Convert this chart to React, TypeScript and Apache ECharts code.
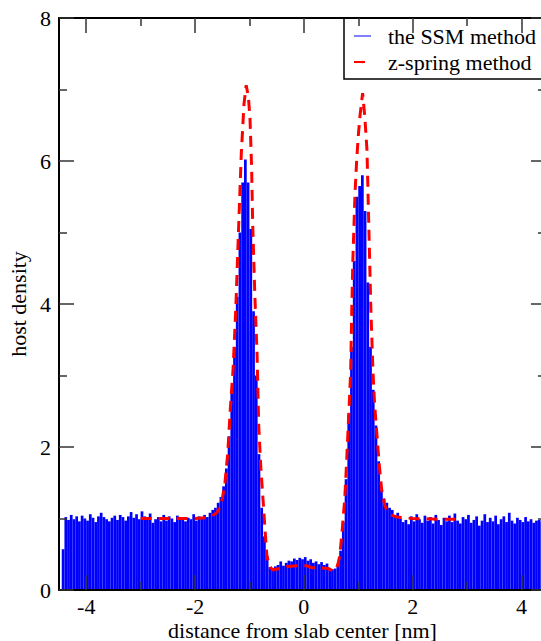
import React, { useEffect, useRef } from "react";
import * as echarts from "echarts";

// Histogram (SSM method): bins of width 0.05 nm starting at -4.45 nm
const HIST_START = -4.45;
const HIST_BIN = 0.05;
const histValues: number[] = [
  // left bulk (-4.45 .. -1.70)
  0.57, 1.02, 0.98, 1.05, 0.99, 1.03, 0.96, 1.04, 1.0, 0.97,
  1.06, 1.01, 0.95, 1.03, 1.08, 1.02, 0.99, 0.96, 1.01, 1.04,
  0.98, 1.05, 1.02, 0.97, 1.03, 1.09, 1.01, 1.06, 0.99, 1.1,
  1.03, 0.98, 1.07, 0.94, 0.99, 1.02, 0.96, 1.05, 0.97, 1.03,
  1.0, 0.95, 1.04, 0.98, 1.02, 0.96, 1.01, 0.99, 1.06, 0.97,
  1.03, 1.0, 1.05, 1.02, 1.08,
  // left peak
  1.12, 1.15, 1.22, 1.3, 1.45, 1.7, 2.15, 2.75, 3.4, 4.1,
  5.0, 5.7, 6.02, 5.7, 5.05, 3.9, 3.0, 1.9, 1.15, 0.75,
  0.48, 0.32,
  // slab centre
  0.3, 0.33, 0.35, 0.4, 0.34, 0.38, 0.41, 0.4, 0.44, 0.42,
  0.45, 0.43, 0.46, 0.41, 0.43, 0.38, 0.4, 0.36, 0.39, 0.35,
  0.37, 0.31, 0.29,
  // right peak
  0.3, 0.35, 0.55, 0.95, 1.55, 2.45, 3.4, 4.6, 5.5, 5.65,
  5.8, 5.3, 4.3, 3.4, 2.8, 2.3, 1.8, 1.4, 1.28, 1.22,
  1.15, 1.12, 1.05, 1.08,
  // right bulk
  1.0, 0.95, 0.98, 0.92, 1.03, 0.96, 1.06, 0.99, 0.94, 1.04,
  0.97, 1.02, 0.93, 1.05, 0.98, 0.91, 1.01, 0.96, 1.04, 0.95,
  1.07, 0.97, 0.93, 1.02, 0.99, 1.05, 0.94, 0.98, 1.03, 0.9,
  0.97, 1.06, 0.95, 1.01, 0.96, 1.04, 0.92, 0.99, 1.03, 0.95,
  1.08, 0.97, 0.93, 1.01, 0.98, 0.95, 1.02, 0.96, 0.99, 0.94,
  0.97, 0.98, 0.95, 0.96,
];

// z-spring method curve
const springX: number[] = [
  -3.0, -2.5, -2.0, -1.8, -1.7, -1.6, -1.55, -1.5, -1.45, -1.4,
  -1.35, -1.3, -1.25, -1.2, -1.15, -1.1, -1.06, -1.02, -0.99, -0.96,
  -0.94, -0.9, -0.86, -0.83, -0.79, -0.75, -0.71, -0.68, -0.63, -0.57,
  -0.45, -0.3, -0.1, 0.05, 0.15, 0.3, 0.45, 0.55, 0.6, 0.63,
  0.66, 0.7, 0.75, 0.78, 0.81, 0.84, 0.86, 0.88, 0.9, 0.94,
  0.97, 1.0, 1.03, 1.08, 1.12, 1.16, 1.19, 1.23, 1.27, 1.3,
  1.34, 1.38, 1.43, 1.48, 1.52, 1.6, 1.71, 2.0, 2.5, 2.9,
];
const springY: number[] = [
  1.0, 1.0, 1.0, 1.01, 1.03, 1.08, 1.15, 1.27, 1.5, 1.9,
  2.55, 3.1, 3.95, 5.05, 6.1, 6.8, 7.06, 6.9, 6.6, 5.9,
  5.1, 4.1, 3.3, 2.3, 1.7, 1.26, 0.8, 0.48, 0.33, 0.28,
  0.3, 0.33, 0.34, 0.34, 0.31, 0.31, 0.3, 0.26, 0.3, 0.38,
  0.48, 0.8, 1.26, 1.7, 2.2, 2.7, 3.05, 3.9, 4.6, 5.55,
  6.0, 6.35, 6.62, 6.95, 6.62, 6.15, 5.2, 3.96, 3.05, 2.6,
  2.2, 1.8, 1.4, 1.2, 1.12, 1.05, 1.02, 1.0, 0.99, 0.99,
];

const xMajorTicks = [-4, -2, 0, 2, 4];
const xMinorTicks = [-3, -1, 1, 3];
const seriesNames = ["the SSM method", "z-spring method"];

const FONT = "'Liberation Serif', 'Times New Roman', Times, serif";

export default function App() {
  const ref = useRef<HTMLDivElement>(null);
  useEffect(() => {
    document.body.style.margin = "0";
    const chart = echarts.init(ref.current!, null, { renderer: "svg" });
    const histData = histValues.map((v, i) => [HIST_START + HIST_BIN * (i + 0.5), v]);
    const springData = springX.map((x, i) => [x, springY[i]]);
    const tickStyle = { color: "#333", width: 1.5 };
    const xBase = { type: "value", min: -4.5, max: 4.45, splitLine: { show: false }, z: 5 };
    chart.setOption({
      animation: false,
      textStyle: { fontFamily: FONT },
      grid: { left: 59, top: 18, right: -5, bottom: 51, containLabel: false, outerBoundsMode: "none" },
      legend: {
        orient: "vertical",
        left: 344,
        top: 18,
        padding: [7, 40, 6, 9],
        itemGap: 4,
        itemWidth: 17,
        itemHeight: 3,
        borderColor: "#000",
        borderWidth: 1.5,
        backgroundColor: "#fff",
        textStyle: { fontFamily: FONT, fontSize: 22, color: "#000", padding: [0, 0, 0, 12] },
        data: [
          { name: seriesNames[0], icon: "path://M0,0h17v1h-17z" },
          { name: seriesNames[1] },
        ],
      },
      xAxis: [
        {
          ...xBase,
          position: "bottom",
          axisLine: { show: true, onZero: false, lineStyle: { color: "#000", width: 2 } },
          axisTick: { show: true, inside: true, length: 15, customValues: xMajorTicks, lineStyle: tickStyle },
          axisLabel: { show: true, customValues: xMajorTicks, fontFamily: FONT, fontSize: 22, color: "#000", margin: 5 },
          name: "distance from slab center [nm]",
          nameLocation: "middle",
          nameGap: 29,
          nameMoveOverlap: false,
          nameTextStyle: { fontFamily: FONT, fontSize: 22, color: "#000" },
        },
        {
          ...xBase,
          position: "bottom",
          axisLine: { show: false, onZero: false },
          axisTick: { show: true, inside: true, length: 8, customValues: xMinorTicks, lineStyle: tickStyle },
          axisLabel: { show: false },
        },
        {
          ...xBase,
          position: "top",
          axisLine: { show: true, onZero: false, lineStyle: { color: "#000", width: 2 } },
          axisTick: { show: true, inside: true, length: 15, customValues: xMajorTicks, lineStyle: tickStyle },
          axisLabel: { show: false },
        },
        {
          ...xBase,
          position: "top",
          axisLine: { show: false, onZero: false },
          axisTick: { show: true, inside: true, length: 8, customValues: xMinorTicks, lineStyle: tickStyle },
          axisLabel: { show: false },
        },
      ],
      yAxis: [
        {
          type: "value",
          min: 0,
          max: 8,
          interval: 2,
          position: "left",
          z: 5,
          splitLine: { show: false },
          axisLine: { show: true, onZero: false, lineStyle: { color: "#000", width: 2 } },
          axisTick: { show: true, inside: true, length: 15, lineStyle: tickStyle },
          minorTick: { show: true, splitNumber: 2, length: 8, lineStyle: tickStyle },
          axisLabel: { fontFamily: FONT, fontSize: 22, color: "#000", margin: 8 },
          name: "host density",
          nameLocation: "middle",
          nameGap: 30,
          nameMoveOverlap: false,
          nameTextStyle: { fontFamily: FONT, fontSize: 22, color: "#000" },
        },
        {
          type: "value",
          min: 0,
          max: 8,
          interval: 2,
          position: "right",
          z: 5,
          splitLine: { show: false },
          axisLine: { show: true, onZero: false, lineStyle: { color: "#000", width: 2 } },
          axisTick: { show: true, inside: true, length: 15, lineStyle: tickStyle },
          minorTick: { show: true, splitNumber: 2, length: 8, lineStyle: tickStyle },
          axisLabel: { show: false },
        },
      ],
      series: [
        {
          type: "custom",
          name: seriesNames[0],
          xAxisIndex: 0,
          yAxisIndex: 0,
          clip: true,
          data: histData,
          encode: { x: 0, y: 1 },
          itemStyle: { color: "#0000ff" },
          renderItem: (params: any, api: any) => {
            const x = api.value(0);
            const y = api.value(1);
            const a = api.coord([x - HIST_BIN / 2, y]);
            const b = api.coord([x + HIST_BIN / 2, 0]);
            return {
              type: "rect",
              shape: { x: a[0], y: a[1], width: b[0] - a[0], height: b[1] - a[1] },
              style: { fill: "#0000ff" },
            };
          },
          z: 2,
        },
        {
          type: "line",
          name: seriesNames[1],
          xAxisIndex: 0,
          yAxisIndex: 0,
          data: springData,
          symbol: "none",
          showSymbol: false,
          itemStyle: { color: "#ff0000" },
          lineStyle: { color: "#ff0000", width: 3, type: [11, 7] },
          z: 3,
        },
      ],
    });
    return () => chart.dispose();
  }, []);
  return (
    <div
      ref={ref}
      style={{ position: "fixed", left: 0, top: 0, width: 541, height: 641, background: "#fff" }}
    />
  );
}
